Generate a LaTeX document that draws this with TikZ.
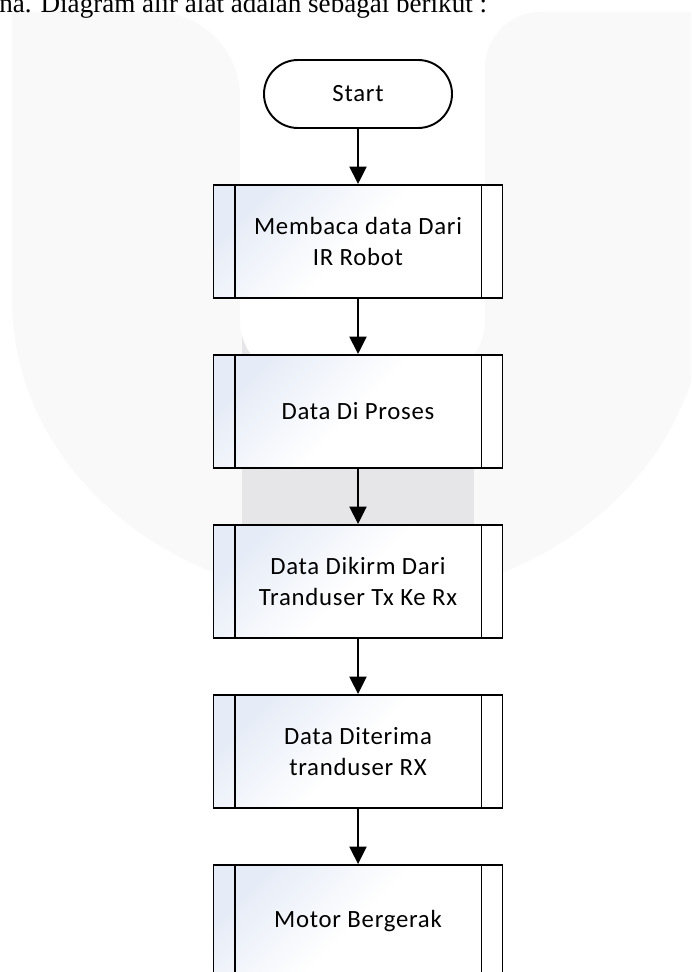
\documentclass[tikz,border=0pt]{standalone}
\usepackage{fontspec}
\setmainfont{Carlito}
\newfontfamily\chartfam[LetterSpace=3]{Carlito}
\newfontfamily\serifbody{Liberation Serif}
\usepackage{tikz}
\usetikzlibrary{arrows.meta}

\definecolor{wmlight}{HTML}{F9F9F9}
\definecolor{wmgray}{HTML}{E6E6E8}
\definecolor{boxblue}{HTML}{E6ECF7}
\newcommand{\boxfont}{\chartfam\fontsize{14.1}{17.6}\selectfont}

\tikzset{
  terminal/.style={draw, line width=1.1pt, fill=white, rounded corners=0.68cm,
    minimum width=3.76cm, minimum height=1.36cm, font=\boxfont},
  subproc/.style={draw, line width=1.1pt, top color=boxblue, bottom color=white,
    middle color=white, shading angle=45, minimum width=5.78cm,
    minimum height=2.26cm, align=center, font=\boxfont},
  flow/.style={line width=1.1pt, -{Triangle[width=0.34cm,length=0.35cm]}},
}

\begin{document}
\begin{tikzpicture}
  \useasboundingbox (0,0) rectangle (13.82,-19.44);
  \clip (0,0) rectangle (13.82,-19.44);
  % faint logo behind the chart
  \fill[wmlight] (0.24,-0.24) -- (14.08,-0.24) -- (14.08,-6.0)
    arc[start angle=0, end angle=-180, x radius=6.92, y radius=6.0] -- cycle;
  \fill[wmgray] (4.84,-6.0) rectangle (9.48,-11.9);
  \fill[white] (3.1,0.2) -- (3.1,-0.24)
    arc[start angle=90, end angle=0, radius=1.7] -- (4.8,-6.4)
    arc[start angle=180, end angle=270, radius=1.2] -- (8.5,-7.6)
    arc[start angle=270, end angle=360, radius=1.2] -- (9.7,-1.34)
    arc[start angle=180, end angle=90, radius=1.1] -- (10.8,0.2) -- cycle;

  % line of body text cut by the top edge
  \node[anchor=base west, inner sep=0, font=\serifbody\fontsize{15.4}{18}\selectfont]
    (intro) at (-0.02,-0.26) {na. Diagram alir alat adalah sebagai berikut :};

  \coordinate (c0) at (7.16,-1.88);
  \coordinate (c1) at (7.16,-4.83);
  \coordinate (c2) at (7.16,-8.23);
  \coordinate (c3) at (7.16,-11.63);
  \coordinate (c4) at (7.16,-15.03);
  \coordinate (c5) at (7.16,-18.43);

  \node[terminal] (start) at (c0) {Start};
  \node[subproc] (proc1) at (c1) {Membaca data Dari\\IR Robot};
  \node[subproc] (proc2) at (c2) {Data Di Proses};
  \node[subproc] (proc3) at (c3) {Data Dikirm Dari\\Tranduser Tx Ke Rx};
  \node[subproc] (proc4) at (c4) {Data Diterima\\tranduser RX};
  \node[subproc] (proc5) at (c5) {Motor Bergerak};

  % double side bars of the sub-process boxes
  \foreach \b in {proc1,proc2,proc3,proc4,proc5}{
    \draw[line width=1.1pt] ([xshift=0.44cm]\b.north west) -- ([xshift=0.44cm]\b.south west);
    \draw[line width=1.1pt] ([xshift=-0.44cm]\b.north east) -- ([xshift=-0.44cm]\b.south east);
  }

  \draw[flow] (start) -- (proc1);
  \draw[flow] (proc1) -- (proc2);
  \draw[flow] (proc2) -- (proc3);
  \draw[flow] (proc3) -- (proc4);
  \draw[flow] (proc4) -- (proc5);
\end{tikzpicture}
\end{document}
